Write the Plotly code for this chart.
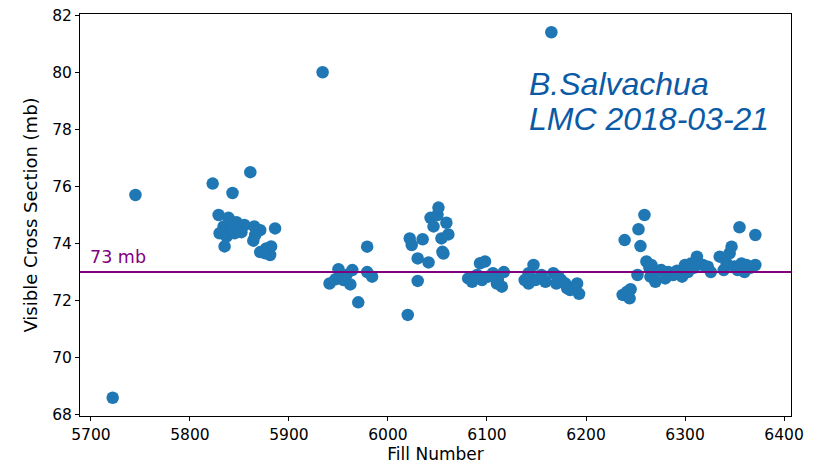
import plotly.graph_objects as go

# Fill numbers and visible cross sections (mb)
fills_isolated = [5722, 5745, 5823, 5843, 5861, 5934, 6165]
sigma_isolated = [68.6, 75.7, 76.1, 75.77, 76.5, 80.0, 81.4]

fills_c1 = [5829, 5839, 5847, 5855, 5865, 5871, 5886, 5834, 5830, 5837, 5845, 5849,
            5835, 5864, 5866, 5871, 5877, 5882, 5881, 5876, 5841, 5852]
sigma_c1 = [75.0, 74.9, 74.75, 74.65, 74.6, 74.47, 74.53, 74.6, 74.36, 74.24, 74.36, 74.47,
            73.9, 74.1, 74.3, 73.7, 73.83, 73.9, 73.6, 73.66, 74.5, 74.4]

fills_c2 = [5941, 5950, 5955, 5958, 5962, 5964, 5970, 5979, 5979, 5984, 5947]
sigma_c2 = [72.6, 73.1, 72.72, 72.9, 72.57, 73.07, 71.94, 73.89, 73.0, 72.84, 72.75]

fills_c3 = [6020, 6022, 6024, 6030, 6030, 6035, 6041, 6043, 6046, 6050, 6051, 6054,
            6055, 6056, 6059, 6061]
sigma_c3 = [71.5, 74.18, 73.95, 73.48, 72.69, 74.15, 73.34, 74.9, 74.6, 75.0, 75.26, 74.18,
            73.71, 73.65, 74.73, 74.32]

fills_c4 = [6081, 6085, 6090, 6093, 6095, 6098, 6101, 6106, 6110, 6111, 6115, 6117,
            6138, 6142, 6142, 6147, 6149, 6155, 6159, 6167, 6170, 6175, 6179, 6181,
            6184, 6191, 6193, 6172]
sigma_c4 = [72.78, 72.66, 72.9, 73.31, 72.72, 73.37, 72.84, 72.96, 72.6, 72.72, 72.49, 73.0,
            72.72, 72.96, 72.6, 73.25, 72.72, 72.9, 72.66, 72.96, 72.6, 72.72, 72.6, 72.43,
            72.37, 72.6, 72.24, 72.85]

fills_c5 = [6239, 6237, 6241, 6244, 6245, 6252, 6253, 6255, 6259, 6261, 6264, 6265,
            6266, 6268, 6270, 6273, 6276, 6280, 6283, 6288, 6292, 6297, 6300, 6303,
            6306, 6309, 6312, 6318, 6323, 6326]
sigma_c5 = [74.12, 72.2, 72.3, 72.08, 72.4, 72.9, 74.5, 73.91, 75.0, 73.37, 73.15, 72.84,
            73.25, 72.95, 72.66, 73.05, 73.07, 72.78, 73.0, 72.9, 73.05, 72.84, 73.25, 73.0,
            73.3, 73.15, 73.54, 73.25, 73.19, 73.0]

fills_c6 = [6335, 6339, 6342, 6345, 6347, 6350, 6353, 6355, 6357, 6360, 6362, 6366,
            6371, 6371]
sigma_c6 = [73.54, 73.07, 73.3, 73.66, 73.89, 73.2, 73.07, 74.57, 73.3, 73.0, 73.25, 73.15,
            73.25, 74.3]

reference_value = 73
x_ticks = [5700, 5800, 5900, 6000, 6100, 6200, 6300, 6400]
y_ticks = [68, 70, 72, 74, 76, 78, 80, 82]

fills = fills_isolated + fills_c1 + fills_c2 + fills_c3 + fills_c4 + fills_c5 + fills_c6
sigma = sigma_isolated + sigma_c1 + sigma_c2 + sigma_c3 + sigma_c4 + sigma_c5 + sigma_c6

x_range = [5689, 6407]
y_range = [67.96, 82.04]

fig = go.Figure()
fig.add_trace(go.Scatter(
    x=fills, y=sigma, mode="markers",
    marker=dict(color="#1f77b4", size=12.5, line=dict(width=0)),
    showlegend=False, hoverinfo="x+y"))

fig.add_trace(go.Scatter(
    x=x_range, y=[reference_value, reference_value], mode="lines",
    line=dict(color="#800080", width=2), showlegend=False, hoverinfo="skip"))

fig.add_annotation(x=5697, y=reference_value, xref="x", yref="y", text="73 mb",
                   showarrow=False, xanchor="left", yanchor="bottom", yshift=3,
                   font=dict(family="DejaVu Sans", size=17.5, color="#800080"))

fig.add_annotation(x=6140, y=79.6, xref="x", yref="y", text="<i>B.Salvachua</i>",
                   showarrow=False, xanchor="left", yanchor="middle",
                   font=dict(family="Liberation Sans", size=32, color="#0b5aa6"))
fig.add_annotation(x=6140, y=78.38, xref="x", yref="y", text="<i>LMC 2018-03-21</i>",
                   showarrow=False, xanchor="left", yanchor="middle",
                   font=dict(family="Liberation Sans", size=32, color="#0b5aa6"))

axis_common = dict(showline=True, linecolor="black", linewidth=1, mirror=True,
                   ticks="outside", ticklen=4, tickcolor="black", showgrid=False,
                   zeroline=False, ticklabeloverflow="allow", automargin=False,
                   tickfont=dict(family="DejaVu Sans", size=15.5, color="black"))

fig.update_xaxes(range=x_range, tickvals=x_ticks,
                 title=dict(text="Fill Number", font=dict(family="DejaVu Sans", size=17, color="black"),
                            standoff=4),
                 **axis_common)
fig.update_yaxes(range=y_range, tickvals=y_ticks,
                 title=dict(text="Visible Cross Section (mb)",
                            font=dict(family="DejaVu Sans", size=18, color="black"), standoff=9),
                 **axis_common)

fig.update_layout(width=821, height=471, plot_bgcolor="white", paper_bgcolor="white",
                  margin=dict(l=72, r=38, t=6, b=63, autoexpand=False))

fig.write_html("out.html")
